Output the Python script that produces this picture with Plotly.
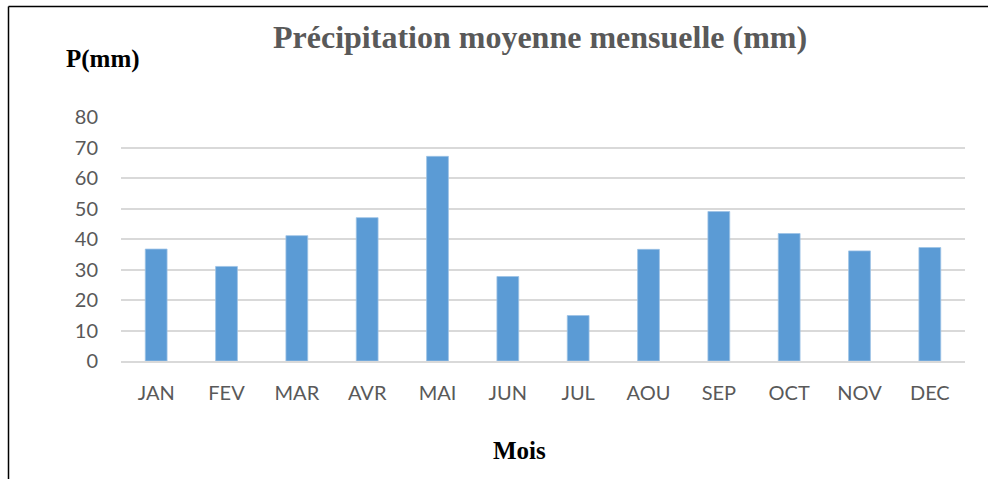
import plotly.graph_objects as go

months = ["JAN", "FEV", "MAR", "AVR", "MAI", "JUN", "JUL", "AOU", "SEP", "OCT", "NOV", "DEC"]
precip = [36.7, 31.0, 41.1, 47.0, 67.1, 27.7, 14.9, 36.6, 49.0, 41.8, 36.1, 37.2]
y_ticks = [0, 10, 20, 30, 40, 50, 60, 70, 80]

W, H = 988, 479
L, R, T, B = 121, 23, 117, 118
pw, ph = W - L - R, H - T - B

def px(x):
    return (x - L) / pw

def py(y):
    return (H - B - y) / ph

fig = go.Figure(go.Bar(
    x=months, y=precip,
    marker=dict(color="#5B9BD5", line=dict(color="#9DC3E6", width=0.8)),
    width=0.31,
))

fig.update_layout(
    width=W, height=H,
    margin=dict(l=L, r=R, t=T, b=B, autoexpand=False),
    paper_bgcolor="white", plot_bgcolor="white",
    showlegend=False,
    xaxis=dict(
        showgrid=False, showline=True, linecolor="#d9d9d9", linewidth=1.5,
        tickfont=dict(family="Lato", size=20, color="#595959"),
        ticks="", ticklabelstandoff=13,
    ),
    yaxis=dict(
        range=[0, 80], tickvals=y_ticks, showgrid=True, gridcolor="#d9d9d9", gridwidth=1.5,
        zeroline=False, showline=False,
        tickfont=dict(family="Lato", size=20, color="#595959"),
        ticks="", ticklabelstandoff=22,
    ),
    annotations=[
        dict(text="<b>Précipitation moyenne mensuelle (mm)</b>", x=px(540), y=py(36.5),
             xref="paper", yref="paper", showarrow=False, xanchor="center", yanchor="middle",
             font=dict(family="Liberation Serif", size=32, color="#595959")),
        dict(text="<b>P(mm)</b>", x=px(103), y=py(58.5),
             xref="paper", yref="paper", showarrow=False, xanchor="center", yanchor="middle",
             font=dict(family="Liberation Serif", size=25, color="black")),
        dict(text="<b>Mois</b>", x=px(519.5), y=py(450.5),
             xref="paper", yref="paper", showarrow=False, xanchor="center", yanchor="middle",
             font=dict(family="Liberation Serif", size=25, color="black")),
    ],
    shapes=[
        dict(type="line", xref="paper", yref="paper", x0=px(8.5), x1=px(990), y0=py(6.5), y1=py(6.5),
             line=dict(color="black", width=1.5)),
        dict(type="line", xref="paper", yref="paper", x0=px(8.5), x1=px(8.5), y0=py(6.5), y1=py(481),
             line=dict(color="black", width=1.5)),
    ],
)

fig.write_html("out.html", config={"displayModeBar": False},
               post_script="document.body.style.margin='0';document.body.style.overflow='hidden';")
